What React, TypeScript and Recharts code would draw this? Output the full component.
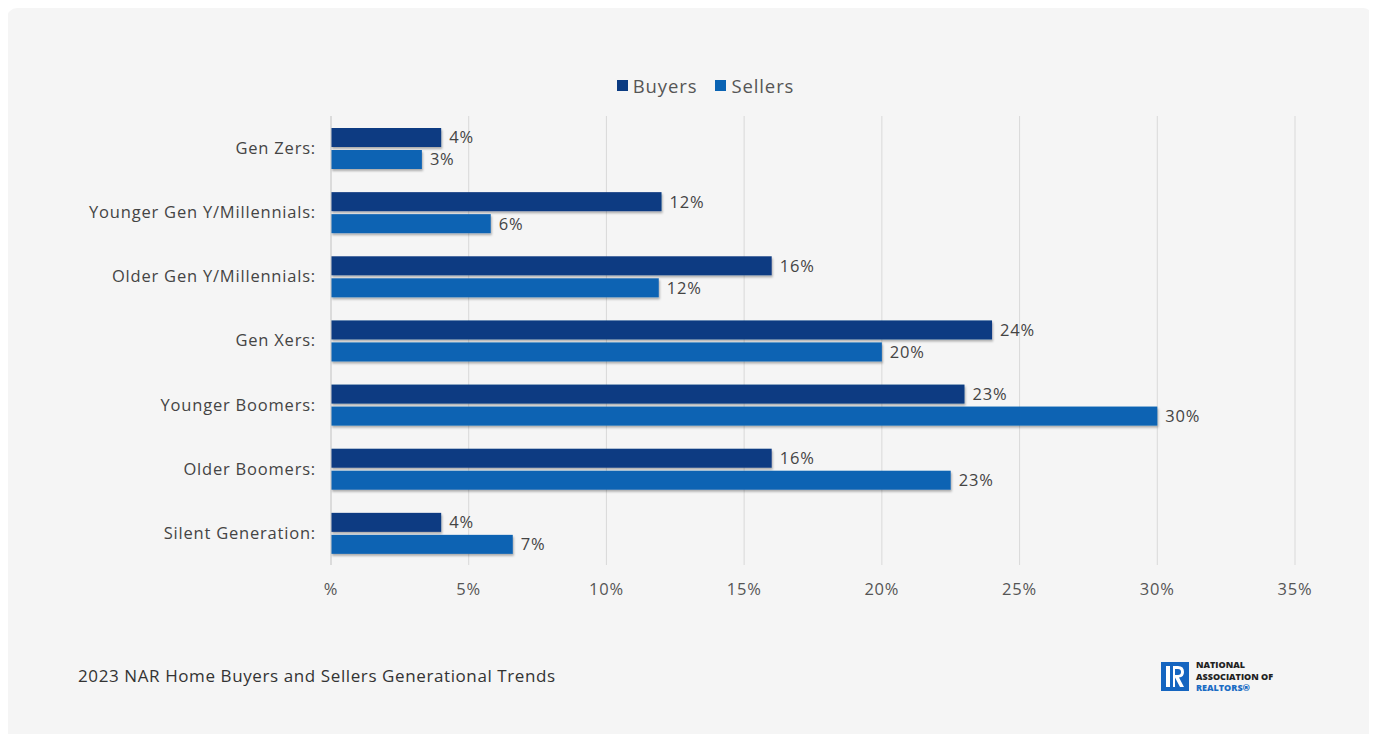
import { BarChart, Bar, XAxis, YAxis, CartesianGrid, Legend, LabelList } from 'recharts';

const generations = [
    'Gen Zers:',
    'Younger Gen Y/Millennials:',
    'Older Gen Y/Millennials:',
    'Gen Xers:',
    'Younger Boomers:',
    'Older Boomers:',
    'Silent Generation:',
];
const buyers = [4, 12, 16, 24, 23, 16, 4];
const sellers = [3.3, 5.8, 11.9, 20, 30, 22.5, 6.6];
const xTicks = [0, 5, 10, 15, 20, 25, 30, 35];

const BUYER_COLOR = '#0b3b82';
const SELLER_COLOR = '#0a63b3';
const FONT = '"Open Sans", Lato, sans-serif';

const data = generations.map((name, i) => ({ name, buyers: buyers[i], sellers: sellers[i] }));

const ShadowBar = (props: any) => {
    const { x, y, width, height, fill } = props;
    if (!width || width <= 0) return null;
    return <rect x={x} y={y} width={width} height={height} fill={fill} filter="url(#barShadow)" />;
};

const LegendContent = () => (
    <div style={{ display: 'flex', justifyContent: 'center', alignItems: 'center', height: 26, paddingLeft: 34, fontFamily: FONT, fontSize: 18.5, letterSpacing: 0.9, color: '#555' }}>
        {[['Buyers', BUYER_COLOR], ['Sellers', SELLER_COLOR]].map(([label, color]) => (
            <span key={label} style={{ display: 'flex', alignItems: 'center', margin: '0 9px' }}>
                <span style={{ width: 11, height: 11, background: color, display: 'inline-block', marginRight: 5 }} />
                {label}
            </span>
        ))}
    </div>
);

const Logo = () => (
    <div style={{ position: 'absolute', left: 1161, top: 659, display: 'flex', alignItems: 'center' }}>
        <svg width={28} height={29} viewBox="0 0 28 29">
            <rect width={28} height={29} fill="#1565c0" />
            <rect x={5} y={4} width={4} height={21} fill="#fff" />
            <path d="M12 4 H17 Q23 4 23 10 Q23 15 18 15.5 L23 25 H19 L14 15.5 V25 H12 Z M14 7 V13 H17 Q20 13 20 10 Q20 7 17 7 Z" fill="#fff" />
        </svg>
        <div style={{ marginLeft: 7, fontFamily: FONT, fontWeight: 800, fontSize: 9, lineHeight: '11.5px', color: '#222' }}>
            <div>NATIONAL</div>
            <div>ASSOCIATION OF</div>
            <div style={{ color: '#1a6cc4' }}>REALTORS®</div>
        </div>
    </div>
);

const tickStyle = { fontSize: 16.5, fontFamily: FONT, letterSpacing: 0.8 };

export default function App() {
    return (
        <div style={{ position: 'relative', width: 1377, height: 742, margin: -8, background: '#fff', overflow: 'hidden' }}>
            <div style={{ position: 'absolute', left: 7, top: 8, width: 1366, height: 733, background: '#f5f5f5', borderRadius: 10 }} />
            <div style={{ position: 'absolute', left: 0, top: 0 }}>
                <BarChart
                    width={1377}
                    height={742}
                    data={data}
                    layout="vertical"
                    barSize={19}
                    barGap={3}
                    margin={{ top: 90, right: 82, bottom: 147, left: 0 }}
                >
                    <defs>
                        <filter id="barShadow" x="-5%" y="-20%" width="110%" height="160%">
                            <feDropShadow dx={1} dy={2} stdDeviation={1.2} floodColor="#000" floodOpacity={0.3} />
                        </filter>
                    </defs>
                    <CartesianGrid horizontal={false} stroke="#d9d9d9" />
                    <XAxis
                        type="number"
                        domain={[0, 35]}
                        ticks={xTicks}
                        tickFormatter={(v: number) => (v === 0 ? '%' : `${v}%`)}
                        axisLine={false}
                        tickLine={false}
                        height={30}
                        tickMargin={12}
                        tick={{ ...tickStyle, fill: '#555' }}
                    />
                    <YAxis
                        type="category"
                        dataKey="name"
                        width={331}
                        axisLine={{ stroke: '#cfcfcf' }}
                        tickLine={false}
                        tickSize={6}
                        tickMargin={9}
                        tick={{ ...tickStyle, fill: '#444' }}
                    />
                    <Legend verticalAlign="top" content={<LegendContent />} wrapperStyle={{ top: 72, left: 0, width: 1377 }} />
                    <Bar dataKey="buyers" name="Buyers" fill={BUYER_COLOR} shape={ShadowBar} isAnimationActive={false}>
                        <LabelList dataKey="buyers" position="right" offset={8} formatter={(v: any) => `${Math.round(v)}%`} style={{ ...tickStyle, fill: '#444' }} />
                    </Bar>
                    <Bar dataKey="sellers" name="Sellers" fill={SELLER_COLOR} shape={ShadowBar} isAnimationActive={false}>
                        <LabelList dataKey="sellers" position="right" offset={8} formatter={(v: any) => `${Math.round(v)}%`} style={{ ...tickStyle, fill: '#444' }} />
                    </Bar>
                </BarChart>
            </div>
            <div style={{ position: 'absolute', left: 78, top: 664, fontFamily: FONT, fontSize: 17, letterSpacing: 0.6, color: '#333' }}>
                2023 NAR Home Buyers and Sellers Generational Trends
            </div>
            <Logo />
        </div>
    );
}
